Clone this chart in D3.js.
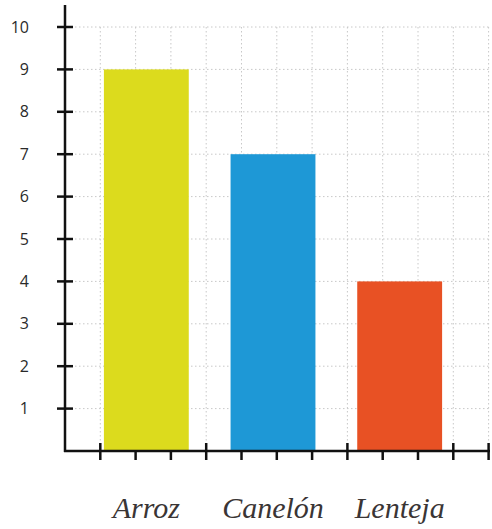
<!DOCTYPE html>
<html>
<head>
<meta charset="utf-8">
<script src="https://cdn.jsdelivr.net/npm/d3@7"></script>
<style>
  body { margin: 0; background: #fff; }
</style>
</head>
<body>
<script>
// data
var categories = ["Arroz", "Canelón", "Lenteja"];
var values = [9, 7, 4];
var barColors = ["#dcdb1d", "#1e98d6", "#e85124"];
var yTicks = [1, 2, 3, 4, 5, 6, 7, 8, 9, 10];
var xTicks = [1, 2, 3, 4, 5, 6, 7, 8, 9, 10, 11, 12];
var xCrossTicks = [1, 4, 8, 11, 12];

var width = 492, height = 529;

var svg = d3.select("body").append("svg")
    .attr("width", width)
    .attr("height", height);

// scales
var y = d3.scaleLinear().domain([0, 10]).range([451, 27]);
var xg = d3.scaleLinear().domain([0, 12]).range([65, 488.6]);
var x = d3.scaleBand().domain(categories).range([83, 463])
    .paddingInner(0.33).paddingOuter(0.165);

// dotted grid
var grid = svg.append("g")
    .attr("stroke", "#c8c8c8")
    .attr("stroke-width", 1)
    .attr("stroke-dasharray", "1.5,2.5");

grid.selectAll(".hg").data(yTicks).enter().append("line")
    .attr("x1", 75).attr("x2", 490)
    .attr("y1", d => y(d)).attr("y2", d => y(d));

grid.selectAll(".vg").data(xTicks).enter().append("line")
    .attr("x1", d => xg(d)).attr("x2", d => xg(d))
    .attr("y1", y(10)).attr("y2", y(0));

// bars
svg.selectAll(".bar").data(values).enter().append("rect")
    .attr("x", (d, i) => x(categories[i]))
    .attr("y", d => y(d))
    .attr("width", x.bandwidth())
    .attr("height", d => y(0) - y(d))
    .attr("fill", (d, i) => barColors[i]);

// axes
var ax = svg.append("g").attr("stroke", "#111").attr("stroke-width", 2.5);

ax.append("line")
    .attr("x1", 65).attr("x2", 65)
    .attr("y1", 5).attr("y2", y(0) + 1);

ax.append("line")
    .attr("x1", 64).attr("x2", 490)
    .attr("y1", y(0)).attr("y2", y(0));

ax.selectAll(".yt").data(yTicks).enter().append("line")
    .attr("x1", 57).attr("x2", 73)
    .attr("y1", d => y(d)).attr("y2", d => y(d));

ax.selectAll(".xt").data(xTicks).enter().append("line")
    .attr("x1", d => xg(d)).attr("x2", d => xg(d))
    .attr("y1", d => xCrossTicks.indexOf(d) >= 0 ? y(0) - 8 : y(0))
    .attr("y2", y(0) + 9);

// y labels
svg.selectAll(".yl").data(yTicks).enter().append("text")
    .attr("x", 29)
    .attr("y", d => y(d))
    .attr("dy", "0.35em")
    .attr("text-anchor", "end")
    .style("font-family", "'Open Sans', sans-serif")
    .style("font-size", "16px")
    .attr("fill", "#2a2a2a")
    .text(d => d);

// category labels
svg.selectAll(".xl").data(categories).enter().append("text")
    .attr("x", d => x(d) + x.bandwidth() / 2)
    .attr("y", 518)
    .attr("text-anchor", "middle")
    .style("font-family", "'Liberation Serif', serif")
    .style("font-style", "italic")
    .style("font-size", "30px")
    .attr("fill", "#3a3535")
    .text(d => d);
</script>
</body>
</html>
